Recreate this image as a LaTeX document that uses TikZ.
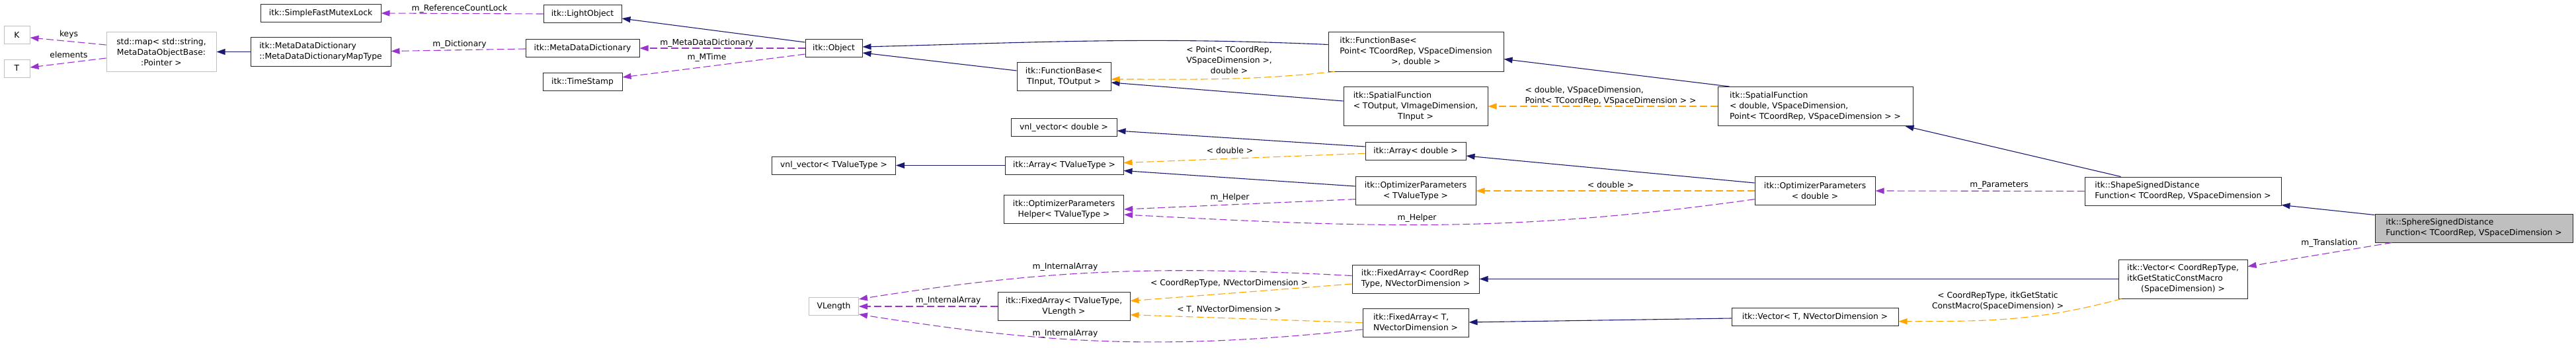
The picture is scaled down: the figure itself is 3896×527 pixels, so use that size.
\documentclass[tikz,border=0pt]{standalone}
\usepackage{fontspec}
\setmainfont{DejaVu Sans}
\usepackage{xcolor}
\usetikzlibrary{arrows.meta,calc}
\definecolor{dNavy}{HTML}{191970}
\definecolor{dOrchid}{HTML}{9A32CD}
\definecolor{dOrange}{HTML}{FFA500}
\definecolor{dGrey}{HTML}{BFBFBF}
\newcommand{\dtab}[1]{\begin{tabular}{@{}l@{}}#1\end{tabular}}
\newcommand{\dmid}[1]{\multicolumn{1}{@{}c@{}}{#1}}
\tikzset{
  dbox/.style={draw=black!85,line width=1pt,fill=white,inner sep=2pt,align=center},
  dext/.style={dbox,draw=dGrey},
  dself/.style={dbox,fill=dGrey},
  hone/.style={minimum height=27pt},
  htwo/.style={minimum height=43pt},
  hthree/.style={minimum height=59pt},
  dlbl/.style={inner sep=0pt,align=center},
  dinh/.style={-{Triangle[length=13pt,width=9pt]},draw=dNavy,line width=1.1pt},
  duse/.style={-{Triangle[length=13pt,width=9pt]},draw=dOrchid,line width=1.1pt,dash pattern=on 11pt off 5pt},
  dtpl/.style={duse,draw=dOrange},
}
\begin{document}
\begin{tikzpicture}[x=1pt,y=-1pt,font=\fontsize{12.3}{16}\selectfont]
\path[use as bounding box,fill=white] (0,0) rectangle (3896,527);
\node[dext,hone,minimum width=39pt] (kk) at (25.5,53) {K};
\node[dext,hone,minimum width=39pt] (tt) at (25.5,103.5) {T};
\node[dext,hthree,minimum width=166pt] (smap) at (244,78.5) {std::map< std::string,\\MetaDataObjectBase:\\:Pointer >};
\node[dbox,hone,minimum width=182pt] (mutex) at (485,20) {itk::SimpleFastMutexLock};
\node[dbox,htwo,minimum width=212pt,align=left] (maptype) at (485,78.5) {itk::MetaDataDictionary\\::MetaDataDictionaryMapType};
\node[dbox,hone,minimum width=118pt] (lightobj) at (881,21) {itk::LightObject};
\node[dbox,hone,minimum width=172pt] (mdd) at (881,73) {itk::MetaDataDictionary};
\node[dbox,hone,minimum width=120pt] (tstamp) at (881,124) {itk::TimeStamp};
\node[dbox,hone,minimum width=86pt] (object) at (1261,73) {itk::Object};
\node[dbox,hone,minimum width=187pt] (vnltv) at (1261,250.5) {vnl\_vector< TValueType >};
\node[dext,hone,minimum width=75pt] (vlength) at (1261,464) {VLength};
\node[dbox,htwo,minimum width=142pt] (fbin) at (1609,116) {itk::FunctionBase<\\TInput, TOutput >};
\node[dbox,hone,minimum width=160pt] (vnld) at (1609,193) {vnl\_vector< double >};
\node[dbox,hone,minimum width=179pt] (arrtv) at (1609.5,250.5) {itk::Array< TValueType >};
\node[dbox,htwo,minimum width=181pt] (ophelper) at (1609,317) {itk::OptimizerParameters\\Helper< TValueType >};
\node[dbox,htwo,minimum width=200pt] (fatv) at (1609,464) {itk::FixedArray< TValueType,\\VLength >};
\node[dbox,hthree,minimum width=265pt] (fbpt) at (2141.5,78.5) {\dtab{itk::FunctionBase<\\Point< TCoordRep, VSpaceDimension\\\dmid{>, double >}}};
\node[dbox,hthree,minimum width=218pt] (sftout) at (2141,161) {\dtab{itk::SpatialFunction\\< TOutput, VImageDimension,\\\dmid{TInput >}}};
\node[dbox,hone,minimum width=152pt] (arrd) at (2141,229) {itk::Array< double >};
\node[dbox,htwo,minimum width=182pt] (optv) at (2141,289) {itk::OptimizerParameters\\< TValueType >};
\node[dbox,htwo,minimum width=192pt,align=left] (facr) at (2141,422.5) {itk::FixedArray< CoordRep\\Type, NVectorDimension >};
\node[dbox,htwo,minimum width=160pt] (fat) at (2141,489) {\dtab{itk::FixedArray< T,\\\dmid{NVectorDimension >}}};
\node[dbox,hthree,minimum width=295pt] (sfd) at (2745.5,161) {\dtab{itk::SpatialFunction\\< double, VSpaceDimension,\\\dmid{Point< TCoordRep, VSpaceDimension > >}}};
\node[dbox,htwo,minimum width=182pt] (opd) at (2745,289) {itk::OptimizerParameters\\< double >};
\node[dbox,hone,minimum width=252pt] (vect) at (2745,480) {itk::Vector< T, NVectorDimension >};
\node[dbox,htwo,minimum width=297pt,align=left] (shape) at (3301.5,289.5) {itk::ShapeSignedDistance\\Function< TCoordRep, VSpaceDimension >};
\node[dbox,hthree,minimum width=195pt] (veccr) at (3301.5,422.5) {\dtab{itk::Vector< CoordRepType,\\ itkGetStaticConstMacro\\\dmid{(SpaceDimension) >}}};
\node[dself,htwo,minimum width=299pt,align=left] (sphere) at (3741.5,345.5) {itk::SphereSignedDistance\\Function< TCoordRep, VSpaceDimension >};
\node[dlbl] (lkeys) at (104,52) {keys};
\node[dlbl] (lelem) at (104,83) {elements};
\node[dlbl] (llock) at (695,13) {m\_ReferenceCountLock};
\node[dlbl] (ldict) at (695,67.7) {m\_Dictionary};
\node[dlbl] (lmdd) at (1069,65) {m\_MetaDataDictionary};
\node[dlbl] (lmtime) at (1069,87) {m\_MTime};
\node[dlbl] (lpoint) at (1859,90.5) {< Point< TCoordRep,\\VSpaceDimension >,\\double >};
\node[dlbl,align=left] (lsfd) at (2436,145) {< double, VSpaceDimension,\\Point< TCoordRep, VSpaceDimension > >};
\node[dlbl] (larr) at (1860,228.3) {< double >};
\node[dlbl] (lopt) at (2436,280.3) {< double >};
\node[dlbl] (lhelpa) at (1860,299.7) {m\_Helper};
\node[dlbl] (lhelpb) at (2143,330.7) {m\_Helper};
\node[dlbl] (lparam) at (3023.5,280.7) {m\_Parameters};
\node[dlbl] (ltrans) at (3523,368.7) {m\_Translation};
\node[dlbl] (linta) at (1611,404.7) {m\_InternalArray};
\node[dlbl] (lintb) at (1434,455.7) {m\_InternalArray};
\node[dlbl] (lintc) at (1611,505) {m\_InternalArray};
\node[dlbl] (lcoord) at (1859,428.7) {< CoordRepType, NVectorDimension >};
\node[dlbl] (lnvec) at (1859,468.7) {< T, NVectorDimension >};
\node[dlbl] (lmacro) at (3021.5,456.5) {< CoordRepType, itkGetStatic\\ConstMacro(SpaceDimension) >};
\draw[dinh] (maptype.west) -- (smap.east);
\draw[dinh] ($(object.west)+(0,-9)$) -- ($(lightobj.east)+(0,7)$);
\draw[dinh] ($(fbin.west)+(0,-9)$) -- ($(object.east)+(0,7)$);
\draw[dinh] ($(fbpt.west)+(0,-11)$) to[out=177.5,in=1.5] ($(object.east)+(0,-2)$);
\draw[dinh] ($(sftout.west)+(0,-8)$) -- ($(fbin.east)+(0,9)$);
\draw[dinh] ($(sfd.north west)+(18,0)$) -- ($(fbpt.east)+(0,11)$);
\draw[dinh] (arrtv.west) -- (vnltv.east);
\draw[dinh] ($(arrd.west)+(0,-7)$) -- ($(vnld.east)+(0,5)$);
\draw[dinh] ($(optv.west)+(0,-7)$) -- ($(arrtv.east)+(0,8)$);
\draw[dinh] ($(opd.west)+(0,-12)$) -- ($(arrd.east)+(0,7)$);
\draw[dinh] ($(shape.north west)+(55,0)$) -- ($(sfd.south east)+(-12,0)$);
\draw[dinh] ($(sphere.north west)+(0,2)$) -- ($(shape.south east)+(0,-1)$);
\draw[dinh] (veccr.west) -- (facr.east);
\draw[dinh] ($(vect.west)+(0,2)$) -- ($(fat.east)+(0,-1)$);
\draw[duse] ($(smap.west)+(0,-10.5)$) -- ($(kk.east)+(0,4)$);
\draw[duse] ($(smap.west)+(0,9.5)$) -- ($(tt.east)+(0,-1.5)$);
\draw[duse] (lightobj.west) -- (mutex.east);
\draw[duse] ($(mdd.west)+(0,1)$) -- ($(maptype.east)+(0,-1)$);
\draw[duse] (object.west) -- (mdd.east);
\draw[duse] ($(object.west)+(0,9)$) -- ($(tstamp.east)+(0,-7)$);
\draw[duse] ($(optv.west)+(0,12.7)$) -- (ophelper.east);
\draw[duse] ($(opd.west)+(0,12.7)$) to[out=188,in=-3] ($(ophelper.east)+(0,8)$);
\draw[duse] (shape.west) -- (opd.east);
\draw[duse] ($(sphere.south west)+(26,0)$) -- ($(veccr.north east)+(0,11)$);
\draw[duse] ($(facr.west)+(0,-5)$) to[out=177,in=9] ($(vlength.east)+(0,-11)$);
\draw[duse] (fatv.west) -- (vlength.east);
\draw[duse] ($(fat.west)+(0,10)$) to[out=186,in=-9] ($(vlength.east)+(0,12)$);
\draw[dtpl] ($(fbpt.south west)+(10,0)$) to[out=186,in=0] ($(fbin.east)+(0,4)$);
\draw[dtpl] (sfd.west) -- (sftout.east);
\draw[dtpl] ($(arrd.west)+(0,3.3)$) -- ($(arrtv.east)+(0,-4)$);
\draw[dtpl] (opd.west) -- (optv.east);
\draw[dtpl] ($(facr.west)+(0,7.5)$) -- ($(fatv.east)+(0,-8.3)$);
\draw[dtpl] ($(fat.west)+(0,-0.3)$) -- ($(fatv.east)+(0,12.7)$);
\draw[dtpl] ($(veccr.south west)+(5,0)$) to[out=195,in=0] ($(vect.east)+(0,6.7)$);
\end{tikzpicture}
\end{document}
